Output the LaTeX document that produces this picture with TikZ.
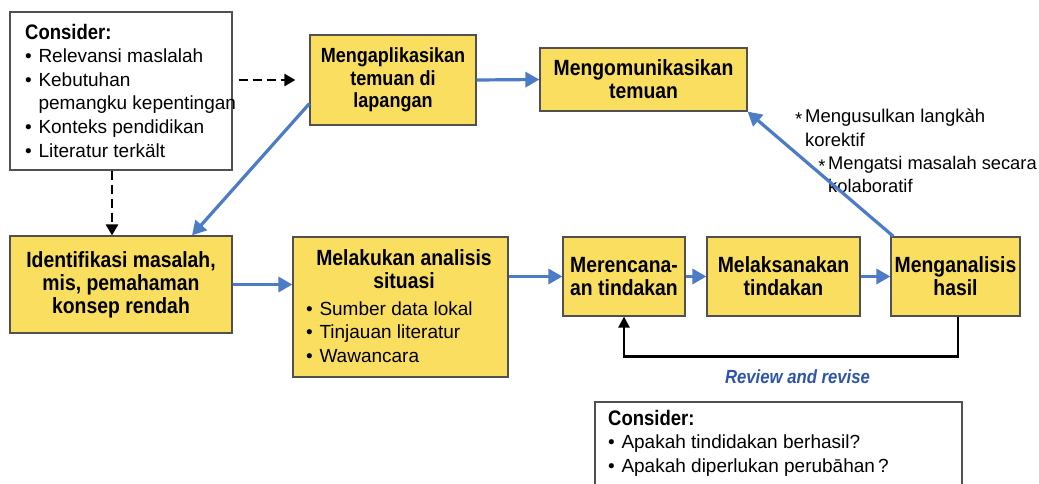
\documentclass[tikz,border=0pt]{standalone}
\usepackage{fontspec}
\setmainfont{Liberation Sans}[BoldFeatures={FakeStretch=0.88},BoldItalicFeatures={FakeStretch=0.88}]
\usetikzlibrary{arrows.meta}
\definecolor{boxyellow}{HTML}{F9DE5F}
\definecolor{arrowblue}{HTML}{4D7CC6}
\definecolor{textblue}{HTML}{2E55A6}
\definecolor{edgegray}{HTML}{505050}
\newcommand{\bul}{\textbullet\hspace{0.35em}}
\newcommand{\hangstar}{\llap{\raisebox{-0.35ex}{*}\hspace{0.15em}}}
\begin{document}
\begin{tikzpicture}[x=1pt,y=-1pt,
 stepbox/.style={draw=edgegray, line width=1.2pt, fill=boxyellow, align=center, inner sep=0pt,
   font=\fontsize{22}{23}\selectfont\bfseries},
 notebox/.style={draw=edgegray, line width=1.3pt, fill=white, inner sep=0pt},
 txt/.style={align=left, inner sep=0pt, font=\fontsize{19}{23.6}\selectfont, anchor=north west},
 flow/.style={draw=arrowblue, line width=3.2pt, -{Triangle[length=14pt,width=15pt]}},
 dasharrow/.style={draw=black, line width=2.6pt, dash pattern=on 9pt off 5pt, -{Triangle[length=11pt,width=12pt]}},
 looparrow/.style={draw=black, line width=2.5pt, -{Triangle[length=11pt,width=11pt]}},
]
\useasboundingbox[fill=white] (0,0) rectangle (1039,484);

% note boxes
\node[notebox, minimum width=222pt, minimum height=158pt] (c1) at (121,91) {};
\node[txt] (c1t) at (25,22.3) {\strut{\fontsize{21}{23.6}\selectfont\bfseries Consider:}\\
\bul Relevansi maslalah\\
\bul Kebutuhan\\
\phantom{\bul}pemangku kepentingan\\
\bul Konteks pendidikan\\
\bul Literatur terkält};

\node[notebox, minimum width=367pt, minimum height=100pt] (c2) at (778.5,452) {};
\node[txt] (c2t) at (608,408.3) {\strut{\fontsize{21}{23.6}\selectfont\bfseries Consider:}\\
\bul Apakah tindidakan berhasil?\\
\bul Apakah diperlukan perubāhan\,?};

% step boxes
\node[stepbox, minimum width=166pt, minimum height=90pt, font=\fontsize{20.5}{22.5}\selectfont\bfseries] (apl) at (393,80) {Mengaplikasikan\\temuan di\\lapangan};
\node[stepbox, minimum width=207pt, minimum height=63pt] (kom) at (643.5,79.5) {Mengomunikasikan\\temuan};
\node[stepbox, minimum width=222pt, minimum height=97pt] (ident) at (121,284.5) {Identifikasi masalah,\\mis, pemahaman\\konsep rendah};
\node[stepbox, minimum width=215pt, minimum height=140pt] (melak) at (400.5,307) {};
\node[align=center, inner sep=0pt, font=\fontsize{22}{23}\selectfont\bfseries] (melakt) at (404,269) {Melakukan analisis\\situasi};
\node[txt] (melakb) at (306,298.3) {\strut\bul Sumber data lokal\\
\bul Tinjauan literatur\\
\bul Wawancara};
\node[stepbox, minimum width=122pt, minimum height=79pt] (meren) at (624,276.5) {Merencana-\\an tindakan};
\node[stepbox, minimum width=153pt, minimum height=79pt] (melaks) at (783.5,276.5) {Melaksanakan\\tindakan};
\node[stepbox, minimum width=129pt, minimum height=79pt] (mengan) at (955.5,276.5) {Menganalisis\\hasil};

% annotations
\node[txt, font=\fontsize{18.5}{24.5}\selectfont] (ann1) at (805,105) {\strut\hangstar Mengusulkan langkàh\\korektif};
\node[txt, font=\fontsize{18.3}{23.5}\selectfont] (ann2) at (828,152.5) {\strut\hangstar Mengatsi masalah secara\\kolaboratif};
\node[inner sep=0pt, font=\fontsize{19}{20}\selectfont\bfseries\itshape, text=textblue] (rev) at (797.5,377) {Review and revise};

% blue flow arrows
\draw[flow] (apl.east) -- (kom.west);
\draw[flow] ([yshift=22pt]apl.south west) -- ([xshift=71pt]ident.north);
\draw[flow] (ident.east) -- (melak.west |- ident.east);
\draw[flow] (melak.east |- meren.west) -- (meren.west);
\draw[flow] (meren.east) -- (melaks.west);
\draw[flow] (melaks.east) -- (mengan.west);
\draw[flow] ([xshift=3pt]mengan.north west) -- (kom.south east);

% dashed arrows
\draw[dasharrow] ([xshift=6pt]c1.east |- apl.west) -- ([xshift=-14pt]apl.west);
\draw[dasharrow] ([xshift=-9pt]c1.south) -- ([xshift=-9pt]c1.south |- ident.north);

% review loop
\draw[looparrow] ([xshift=2.5pt]mengan.south) -- ++(0,40) -| (meren.south);
\end{tikzpicture}
\end{document}
